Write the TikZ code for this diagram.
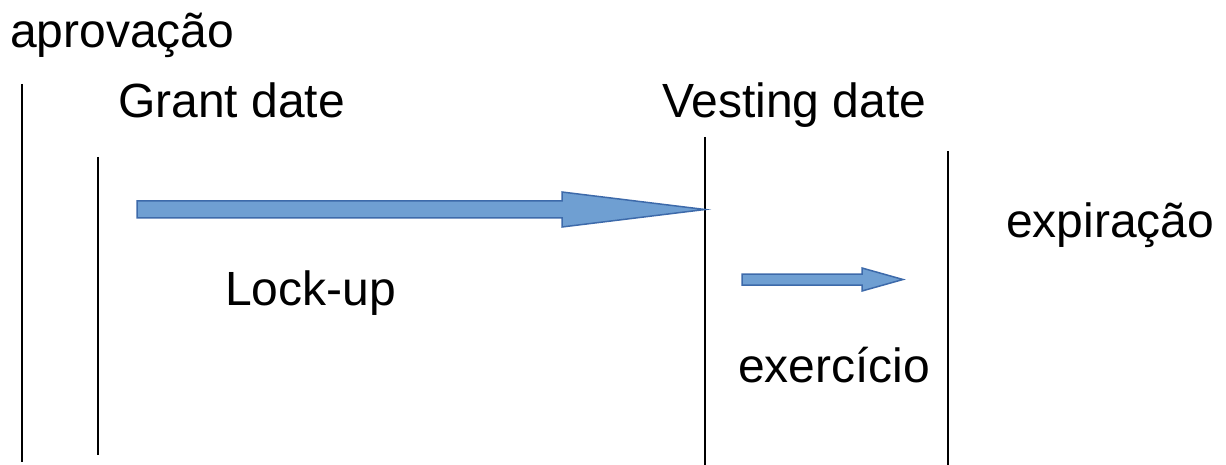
\documentclass[tikz,border=0pt]{standalone}
\usepackage{fontspec}
\setmainfont{Liberation Sans}
\definecolor{arrowfill}{HTML}{6F9FD2}
\definecolor{arrowedge}{HTML}{3D6AAA}
\begin{document}
\begin{tikzpicture}[x=1pt,y=-1pt,
  lbl/.style={anchor=base west,inner sep=0pt,font=\fontsize{48}{58}\selectfont},
  vline/.style={draw=black,line width=2pt},
  blockarrow/.style={fill=arrowfill,draw=arrowedge,line width=1.5pt,line join=miter}]
\useasboundingbox (0,0) rectangle (1226,465);
% vertical lines
\coordinate (l1t) at (22,84);  \coordinate (l1b) at (22,462);
\coordinate (l2t) at (98,157); \coordinate (l2b) at (98,455);
\coordinate (l3t) at (705,137); \coordinate (l3b) at (705,465);
\coordinate (l4t) at (948,151); \coordinate (l4b) at (948,465);
\draw[vline] (l1t) -- (l1b);
\draw[vline] (l2t) -- (l2b);
\draw[vline] (l3t) -- (l3b);
\draw[vline] (l4t) -- (l4b);
% labels
\node[lbl] (aprov) at (10,48) {aprovação};
\node[lbl] (grant) at (118,118) {Grant date};
\node[lbl] (vest) at (662,118) {Vesting date};
\node[lbl] (expir) at (1006,237) {expiração};
\node[lbl] (lock) at (225,305) {Lock-up};
\node[lbl] (exer) at (738,382) {exercício};
% block arrows
\draw[blockarrow] (137,201) -- (562,201) -- (562,192) -- (705,209.5) -- (562,227) -- (562,218) -- (137,218) -- cycle;
\draw[blockarrow] (742,274) -- (862,274) -- (862,268) -- (903,279.5) -- (862,291) -- (862,285) -- (742,285) -- cycle;
\end{tikzpicture}
\end{document}
